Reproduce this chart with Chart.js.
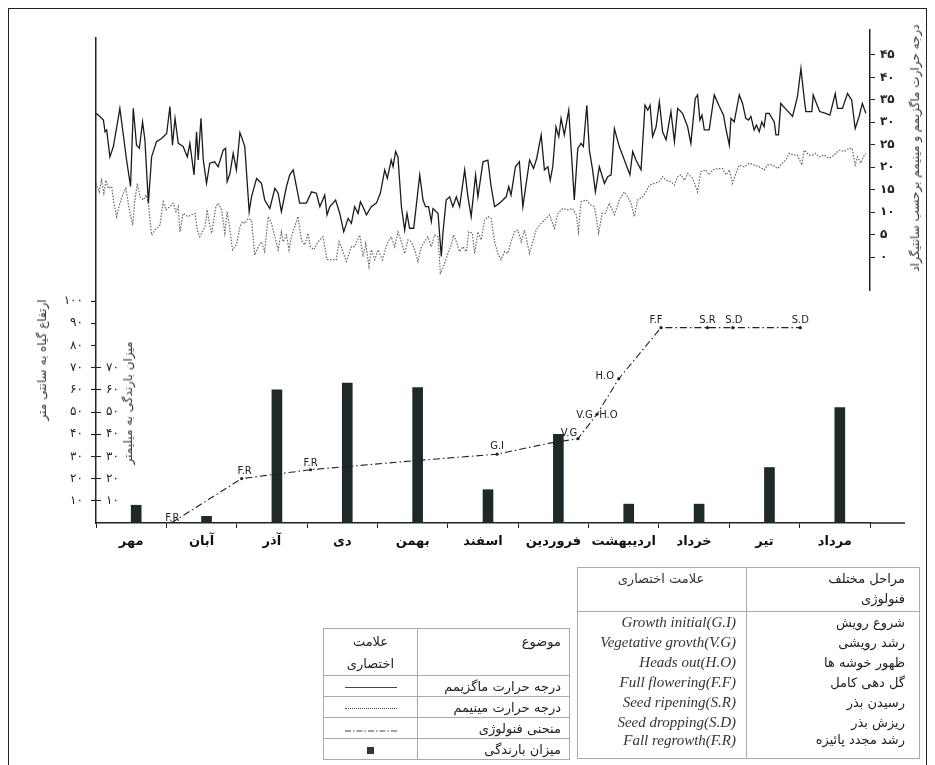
<!DOCTYPE html>
<html>
<head>
<meta charset="utf-8">
<script src="https://cdn.jsdelivr.net/npm/chart.js@4.4.0/dist/chart.umd.min.js"></script>
<style>
html, body { margin:0; padding:0; background:#fff; }
body { width:935px; height:765px; position:relative; overflow:hidden; font-family:"DejaVu Sans", sans-serif; color:#222; }
.frame { position:absolute; left:8px; top:8px; width:919px; height:800px; border:1.5px solid #222; box-sizing:border-box; }
canvas { position:absolute; left:0; top:0; }
.vt { position:absolute; white-space:nowrap; transform:translate(-50%,-50%) rotate(-90deg); font-size:12px; color:#333; direction:rtl; }
table { position:absolute; border-collapse:collapse; direction:rtl; font-size:13px; color:#222; }
table td { padding:0 8px; }
#legend { left:323px; top:628px; width:247px; border:1px solid #aaa; }
#legend td { border:1px solid #aaa; height:20px; }
#legend td.k { width:77px; text-align:center; }
#legend tr.h td { height:42px; vertical-align:top; padding-top:2px; line-height:22px; }
#stages { left:577px; top:567px; width:343px; border:1px solid #aaa; }
#stages td { height:20px; }
#stages td.p { border-left:1px solid #aaa; text-align:right; padding-right:14px; width:150px; }
#stages td.e { text-align:right; padding-right:10px; font-family:"Liberation Serif", serif; font-style:italic; font-size:15px; color:#333; direction:ltr; }
#stages tr.h td { height:42px; vertical-align:top; border-bottom:1px solid #aaa; padding-top:1px; line-height:20px; }
#stages tr.h td.e { font-family:"DejaVu Sans", sans-serif; font-style:normal; font-size:13px; direction:rtl; text-align:center; }
#stages tr.last td { height:26px; vertical-align:top; }
.sw { display:inline-block; width:52px; height:0; vertical-align:middle; }
.box { display:inline-block; width:7px; height:7px; background:#333; vertical-align:middle; }
</style>
</head>
<body>
<div class="frame"></div>
<canvas id="temp" width="935" height="765"></canvas>
<canvas id="pheno" width="935" height="765"></canvas>

<div class="vt" style="left:915px;top:148px;">درجه حرارت ماگزیمم و مینیمم برحسب سانتیگراد</div>
<div class="vt" style="left:42px;top:360px;">ارتفاع گیاه به سانتی متر</div>
<div class="vt" style="left:128px;top:403px;">میزان بارندگی به میلیمتر</div>

<table id="legend">
  <tr class="h"><td>موضوع</td><td class="k">علامت<br>اختصاری</td></tr>
  <tr><td>درجه حرارت ماگزیمم</td><td class="k"><span class="sw" style="border-top:1px solid #444"></span></td></tr>
  <tr><td>درجه حرارت مینیمم</td><td class="k"><span class="sw" style="border-top:1px dotted #444"></span></td></tr>
  <tr><td>منحنی فنولوژی</td><td class="k"><svg width="52" height="4"><line x1="0" y1="2" x2="52" y2="2" stroke="#444" stroke-width="1" stroke-dasharray="6,2,1.5,2"/></svg></td></tr>
  <tr><td>میزان بارندگی</td><td class="k"><span class="box"></span></td></tr>
</table>

<table id="stages">
  <tr class="h"><td class="p">مراحل مختلف<br>فنولوژی</td><td class="e">علامت اختصاری</td></tr>
  <tr><td class="p">شروع رویش</td><td class="e">Growth initial(G.I)</td></tr>
  <tr><td class="p">رشد رویشی</td><td class="e">Vegetative grovth(V.G)</td></tr>
  <tr><td class="p">ظهور خوشه ها</td><td class="e">Heads out(H.O)</td></tr>
  <tr><td class="p">گل دهی کامل</td><td class="e">Full flowering(F.F)</td></tr>
  <tr><td class="p">رسیدن بذر</td><td class="e">Seed ripening(S.R)</td></tr>
  <tr><td class="p">ریزش بذر</td><td class="e">Seed dropping(S.D)</td></tr>
  <tr class="last"><td class="p">رشد مجدد پائیزه</td><td class="e">Fall regrowth(F.R)</td></tr>
</table>

<script>
// months, Mehr .. Mordad
const months = ['مهر','آبان','آذر','دی','بهمن','اسفند','فروردین','اردیبهشت','خرداد','تیر','مرداد'];
const rainfall = [8, 3, 60, 63, 61, 15, 40, 8.5, 8.5, 25, 52];   // mm per month

// phenology curve: position in months (0 = middle of Mehr), plant height cm
const phenoMonth  = [0.57, 1.57, 2.55, 4.0, 5.2, 5.95, 6.35, 6.62, 6.93, 7.53, 8.19, 8.55, 9.51];
const phenoHeight = [0, 20, 24, 28, 31, 36, 38, 49, 65, 88, 88, 88, 88];
const phenoLabels = ['F.R','F.R','F.R','','G.I','','V.G','V.G  H.O','H.O','F.F','S.R','S.D','S.D'];

const heightTicks = [10,20,30,40,50,60,70,80,90,100];
const rainTicks = [10,20,30,40,50,60,70];
const tempTicks = [0,5,10,15,20,25,30,35,40,45];
const totalDays = 334;

// daily temperature: [day from 1 Mehr, °C]
const maxTemp = [
 [0,32.0],[1.7,31.3],[3.2,30.5],[3.9,27.9],[4.6,28.3],[6.0,22.3],[7.5,24.6],[10.3,33.1],[13.2,21.6],[14.9,15.7],
 [16.1,33.1],[17.5,24.9],[18.7,24.2],[20.1,30.1],[21.1,26.1],[22.6,12.0],[24.0,22.3],[26.1,25.7],[28.3,26.4],[30.5,27.5],
 [31.9,33.5],[33.0,24.9],[34.1,30.9],[35.5,25.3],[37.6,24.6],[39.4,22.3],[40.5,25.3],[42.3,18.3],[43.4,27.9],[44.1,21.6],
 [45.3,30.9],[46.3,21.6],[47.7,16.4],[49.1,20.9],[51.2,21.2],[52.7,20.1],[54.9,23.8],[55.9,24.2],[56.6,16.8],[57.8,18.6],
 [59.2,23.1],[60.6,19.4],[62.1,27.7],[63.5,25.7],[64.2,24.6],[66.1,10.1],[67.1,13.4],[69.3,17.5],[71.4,16.4],[72.8,12.7],
 [75.0,10.8],[77.2,15.3],[78.6,14.2],[80.0,10.1],[82.2,15.7],[83.6,18.3],[85.1,19.4],[86.5,15.7],[87.9,12.0],[90.8,12.0],
 [93.0,14.5],[95.1,14.2],[96.6,11.2],[98.7,13.8],[99.7,9.4],[100.9,11.2],[103.4,12.7],[105.2,9.7],[106.9,5.6],[108.8,8.6],
 [110.2,7.5],[111.6,11.2],[113.1,9.7],[114.1,12.3],[115.2,11.2],[116.7,9.4],[118.8,11.2],[121.0,12.0],[122.7,14.2],[124.6,19.4],
 [125.7,17.5],[127.4,21.6],[128.2,20.1],[129.3,23.5],[130.3,22.3],[131.8,11.2],[133.2,6.0],[134.2,9.7],[135.3,6.4],[137.1,6.4],
 [139.7,18.3],[141.1,12.7],[142.2,11.2],[143.5,11.2],[144.7,7.9],[145.4,10.8],[147.6,9.7],[149.0,0.1],[149.7,5.3],[151.1,12.7],
 [152.6,13.4],[154.0,11.2],[155.5,13.4],[156.9,11.2],[159.1,19.4],[160.5,13.4],[161.9,9.0],[163.8,18.3],[164.8,13.4],[167.0,21.2],
 [169.1,21.6],[170.5,15.7],[172.0,11.2],[174.1,12.0],[175.6,12.7],[177.0,13.4],[178.1,15.7],[179.1,13.8],[181.0,20.1],[182.7,21.2],
 [184.2,11.2],[187.1,21.6],[188.8,19.7],[190.2,22.0],[192.1,27.2],[193.5,19.4],[195.0,20.1],[196.0,17.1],[197.1,20.1],[198.5,29.0],
 [199.7,26.8],[200.7,30.9],[202.1,27.2],[204.0,32.7],[206.4,12.7],[207.9,24.2],[209.3,25.3],[210.3,24.6],[211.8,33.8],[212.9,23.8],
 [214.3,19.4],[215.5,14.5],[217.2,20.1],[219.4,16.4],[220.8,17.9],[222.3,18.3],[223.7,28.6],[225.8,24.6],[228.0,21.6],[230.4,18.3],
 [231.6,23.5],[233.0,21.6],[235.2,19.4],[236.9,33.8],[238.1,32.7],[239.1,33.8],[240.2,26.8],[241.7,29.0],[243.1,34.6],[244.5,27.9],
 [246.0,26.1],[248.1,32.4],[249.6,25.7],[251.0,33.1],[253.1,32.0],[255.3,29.0],[256.7,25.3],[258.6,35.3],[259.6,36.1],[260.6,30.5],
 [261.5,31.6],[262.5,28.3],[264.6,28.3],[266.8,36.1],[269.0,33.5],[270.8,31.6],[271.8,28.6],[273.3,24.9],[274.0,30.9],[275.4,30.1],
 [277.6,36.1],[279.0,34.2],[280.4,30.9],[281.6,30.5],[282.6,31.3],[284.0,28.3],[285.0,29.4],[286.2,27.9],[287.3,30.1],[288.3,29.0],
 [289.1,32.0],[290.5,32.0],[292.7,30.1],[293.4,27.2],[294.5,27.2],[295.5,34.2],[297.4,33.1],[300.6,31.3],[302.7,35.7],[304.2,42.0],
 [305.6,35.3],[306.3,32.4],[308.9,32.4],[309.5,36.1],[310.9,34.2],[312.3,32.4],[314.9,32.0],[316.7,31.6],[319.0,36.4],[320.0,33.1],
 [322.1,33.1],[324.3,36.4],[326.1,35.0],[327.6,28.6],[329.3,31.3],[330.7,34.2],[332.2,32.0]
];
const minTemp = [
 [0,16.4],[1.4,14.5],[2.4,17.1],[3.4,14.2],[4.3,17.1],[5.3,15.3],[6.8,15.7],[7.5,12.7],[8.9,9.0],[10.3,12.0],
 [11.8,14.2],[12.9,15.3],[14.4,10.5],[15.8,7.1],[16.8,12.7],[17.8,16.4],[19.0,13.4],[20.4,12.7],[21.6,13.8],[22.6,12.0],
 [24.0,4.9],[25.4,6.0],[27.6,7.1],[29.0,12.3],[30.2,10.5],[31.9,11.2],[33.3,12.0],[34.5,10.1],[35.5,11.2],[36.2,5.6],
 [37.6,9.7],[39.8,9.0],[41.2,9.4],[42.7,9.7],[43.7,6.0],[44.8,4.5],[47.0,6.7],[48.0,10.5],[48.9,7.5],[49.9,5.3],
 [51.7,11.2],[52.7,12.0],[54.2,10.5],[55.6,5.3],[56.6,10.1],[57.8,6.0],[58.9,1.6],[60.6,2.7],[62.1,6.7],[63.2,7.9],
 [64.2,7.5],[65.7,8.6],[67.1,8.2],[68.5,0.4],[70.0,2.3],[71.4,3.4],[72.8,1.2],[74.3,9.0],[75.7,7.5],[77.2,4.5],
 [78.6,1.6],[80.0,5.6],[80.7,3.4],[82.2,4.9],[83.3,1.6],[84.3,4.5],[87.2,9.0],[88.6,3.8],[90.1,2.7],[91.5,5.3],
 [92.5,2.3],[94.0,1.6],[95.8,3.4],[98.0,4.5],[99.7,-0.6],[103.7,-0.6],[104.9,3.4],[106.3,1.6],[108.0,-1.0],[110.2,2.3],
 [111.6,2.3],[113.8,4.9],[115.2,0.1],[116.4,3.0],[117.8,-2.1],[118.8,1.6],[120.3,-0.6],[121.7,1.6],[123.6,-0.6],[125.0,1.9],
 [126.0,3.4],[127.4,4.5],[128.9,2.3],[130.3,5.6],[131.8,3.4],[133.2,0.8],[134.6,3.8],[136.1,3.4],[137.5,1.6],[138.9,-1.0],
 [140.4,2.3],[141.8,3.4],[143.2,4.5],[144.7,2.3],[146.1,4.9],[147.6,4.5],[148.6,-3.6],[149.7,-2.5],[151.4,0.1],[153.3,2.7],
 [154.3,4.9],[155.5,3.4],[156.9,1.2],[158.3,2.3],[159.8,1.2],[160.9,5.6],[162.4,5.3],[163.4,0.8],[164.8,5.6],[166.2,3.8],
 [167.7,8.2],[169.1,9.0],[170.5,8.6],[172.0,3.4],[173.4,0.8],[174.8,-0.6],[176.3,1.2],[177.7,0.8],[179.1,3.4],[180.6,5.6],
 [182.0,6.0],[183.5,3.4],[184.9,6.0],[187.1,0.8],[188.5,3.4],[189.9,6.0],[191.4,7.1],[193.5,8.2],[195.7,9.4],[197.8,6.4],
 [199.3,9.7],[201.4,10.8],[203.6,10.5],[205.7,10.8],[207.2,9.4],[208.2,5.6],[209.3,12.3],[211.5,12.7],[213.6,11.6],[215.1,11.2],
 [216.9,5.3],[218.4,9.7],[219.8,9.7],[221.5,12.0],[223.7,9.4],[225.8,12.7],[228.0,14.5],[229.4,13.4],[230.9,12.0],[232.3,9.0],
 [233.7,12.7],[235.9,13.4],[237.3,14.5],[238.8,16.0],[240.9,16.4],[243.1,16.8],[244.5,17.9],[246.0,17.1],[248.1,16.8],[249.6,16.0],
 [251.0,17.9],[252.4,18.3],[253.9,17.1],[255.3,18.6],[257.5,17.5],[259.6,14.5],[261.0,19.0],[263.2,19.4],[264.6,18.3],[266.1,19.4],
 [268.2,19.7],[270.4,19.7],[271.8,18.3],[273.3,19.4],[274.7,16.4],[276.1,18.6],[277.6,20.5],[279.7,20.1],[281.9,20.9],[284.0,20.5],
 [286.2,20.1],[288.3,19.4],[289.8,20.5],[291.9,20.5],[294.1,19.7],[295.5,20.5],[297.7,21.6],[299.1,23.1],[301.3,22.7],[302.7,22.7],
 [304.6,20.5],[305.6,23.8],[307.7,22.7],[309.2,22.7],[310.6,23.1],[312.1,22.3],[314.2,22.7],[316.4,22.0],[318.5,22.7],[320.7,23.8],
 [322.8,23.5],[325.0,24.2],[326.3,24.2],[327.6,20.5],[328.6,22.3],[330.0,20.9],[331.5,22.7],[332.2,23.1]
];

window.addEventListener('load', () => {
    const fa = v => String(v).replace(/\d/g, d => '۰۱۲۳۴۵۶۷۸۹'[d]);
    const ink = '#222';
    Chart.defaults.font.family = '"DejaVu Sans", sans-serif';
    Chart.defaults.color = ink;

    // upper panel: max / min temperature
    new Chart(document.getElementById('temp'), {
        type: 'line',
        data: {
            datasets: [{
                data: maxTemp.map(p => ({x: p[0], y: p[1]})),
                borderColor: '#1b1b1b',
                borderWidth: 1.3,
                pointRadius: 0
            }, {
                data: minTemp.map(p => ({x: p[0], y: p[1]})),
                borderColor: '#666',
                borderWidth: 1.2,
                borderDash: [1.5, 1.5],
                pointRadius: 0
            }]
        },
        options: {
            responsive: false,
            animation: false,
            devicePixelRatio: 1,
            layout: { padding: { left: 96, right: 0, top: 30, bottom: 475 } },
            plugins: { legend: { display: false }, tooltip: { enabled: false } },
            scales: {
                x: { type: 'linear', min: 0, max: totalDays, display: false },
                y: {
                    position: 'right',
                    min: -7.35, max: 50.56,
                    afterBuildTicks: s => { s.ticks = tempTicks.map(v => ({value: v})); },
                    afterFit: s => { s.width = 65; },
                    grid: { drawOnChartArea: false, tickLength: 5, color: ink },
                    border: { color: ink, width: 1.5 },
                    ticks: { callback: v => fa(v), padding: 5, font: { size: 12, weight: 'bold' } }
                }
            }
        }
    });

    // where each phenology label sits relative to its point
    const labelNudge = [[1,-5],[3,-7],[0,-6],[0,0],[0,-8],[0,0],[-9,-5],[0,1],[-14,-2],[-5,-7],[0,-7],[1,-7],[0,-7]];
    const phenoText = {
        id: 'phenoText',
        afterDatasetsDraw(chart) {
            const ctx = chart.ctx;
            const meta = chart.getDatasetMeta(0);
            ctx.save();
            ctx.font = '10px "DejaVu Sans"';
            ctx.fillStyle = ink;
            ctx.textAlign = 'center';
            ctx.textBaseline = 'middle';
            meta.data.forEach((pt, i) => {
                if (!phenoLabels[i]) return;
                ctx.fillText(phenoLabels[i], pt.x + labelNudge[i][0], pt.y + labelNudge[i][1]);
            });
            // the base line runs a little past the last month
            const a = chart.chartArea;
            ctx.strokeStyle = ink;
            ctx.lineWidth = 1.5;
            ctx.beginPath();
            ctx.moveTo(a.right, a.bottom);
            ctx.lineTo(a.right + 35, a.bottom);
            ctx.stroke();
            ctx.restore();
        }
    };

    // lower panel: rainfall bars + phenology curve
    new Chart(document.getElementById('pheno'), {
        type: 'bar',
        data: {
            labels: months,
            datasets: [{
                type: 'line',
                data: phenoMonth.map((m, i) => ({x: m, y: phenoHeight[i]})),
                xAxisID: 'xp',
                yAxisID: 'y',
                borderColor: ink,
                borderWidth: 1.1,
                borderDash: [7, 3, 1.5, 3],
                pointRadius: c => phenoLabels[c.dataIndex] ? 1.6 : 0,
                pointBackgroundColor: ink,
                pointBorderWidth: 0,
                order: 0
            }, {
                data: rainfall,
                xAxisID: 'x',
                yAxisID: 'yr',
                backgroundColor: '#1e2a2a',
                barThickness: 10,
                order: 1
            }]
        },
        options: {
            responsive: false,
            animation: false,
            devicePixelRatio: 1,
            layout: { padding: { left: 56, right: 65, top: 38, bottom: 212 } },
            plugins: { legend: { display: false }, tooltip: { enabled: false } },
            scales: {
                x: {
                    type: 'category',
                    afterFit: s => { s.height = 30; },
                    grid: { offset: true, drawOnChartArea: false, tickLength: 5, color: ink },
                    border: { color: ink, width: 1.5 },
                    ticks: { padding: 6, color: '#111', autoSkip: false, maxRotation: 0, minRotation: 0, font: { size: 13, weight: 'bold' } }
                },
                xp: { type: 'linear', min: -0.5, max: 10.5, offset: false, display: false },
                y: {
                    position: 'left',
                    weight: 1,
                    min: 0, max: 218.5,
                    afterBuildTicks: s => { s.ticks = heightTicks.map(v => ({value: v})); },
                    afterFit: s => { s.width = 40; },
                    grid: { drawOnChartArea: false, tickLength: 5, color: ink },
                    border: { color: ink, width: 1.5 },
                    ticks: { callback: v => fa(v), padding: 8, font: { size: 12 } }
                },
                yr: {
                    position: 'left',
                    weight: 0,
                    min: 0, max: 218.5,
                    afterBuildTicks: s => { s.ticks = rainTicks.map(v => ({value: v})); },
                    afterFit: s => { s.width = 0; },
                    grid: { drawOnChartArea: false, tickLength: -5, color: ink },
                    border: { display: false },
                    ticks: { mirror: true, callback: v => fa(v), padding: 10, font: { size: 12 } }
                }
            }
        },
        plugins: [phenoText]
    });
});
</script>
</body>
</html>
